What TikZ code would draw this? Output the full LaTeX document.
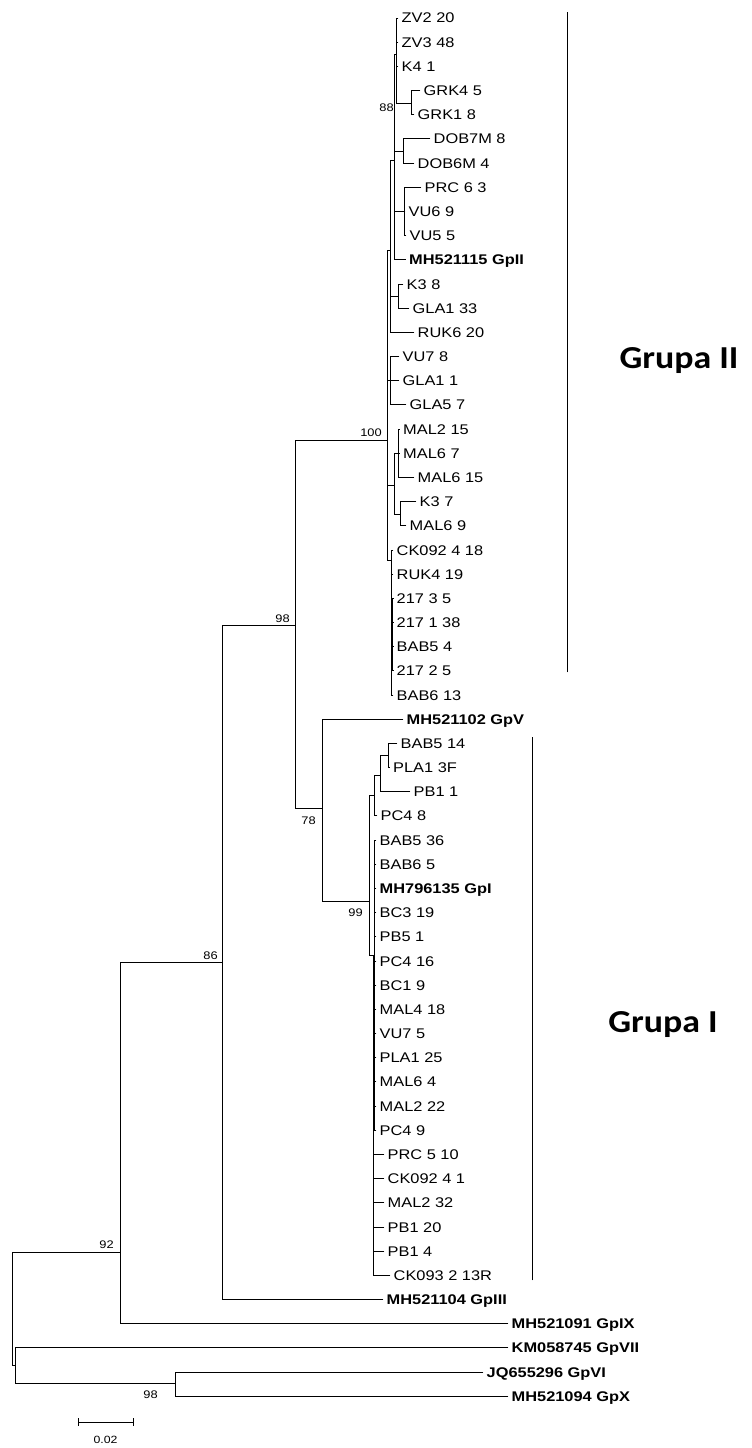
\documentclass[tikz,border=0pt]{standalone}
\usepackage{fontspec}
\setmainfont{Liberation Sans}[FakeStretch=1.17]
\newfontfamily\grpfont{Carlito}[FakeStretch=1.12]
\begin{document}
\begin{tikzpicture}[x=1pt,y=-1pt,
  br/.style={line width=0.9pt, line cap=rect},
  leaf/.style={anchor=west, inner xsep=3.5pt, inner ysep=0pt, text height=10pt, text depth=0pt, font=\fontsize{14}{16}\selectfont},
  bleaf/.style={leaf, font=\fontsize{14}{16}\selectfont\bfseries},
  boot/.style={anchor=east, inner sep=0pt, font=\fontsize{11}{12}\selectfont},
  grp/.style={inner sep=0pt, font=\grpfont\bfseries\fontsize{32}{36}\selectfont}]
\fill[white] (0,0) rectangle (752,1448);
\useasboundingbox (0,0) rectangle (752,1448);

% ---------- internal nodes ----------
\coordinate (root) at (12,1300);
\coordinate (nB) at (15,1365);
\coordinate (nC) at (175,1383);
\coordinate (n92) at (120,1252);
\coordinate (n86) at (222,962);
\coordinate (n98) at (295,625);
\coordinate (n100) at (387,440);
\coordinate (C1) at (390,250);
\coordinate (D1) at (394,160);
\coordinate (G) at (396,54);
\coordinate (GRK) at (411,103);
\coordinate (DOB) at (403,151);
\coordinate (VUn) at (404,211);
\coordinate (E) at (398,296);
\coordinate (C2) at (390,380);
\coordinate (C3) at (394,485);
\coordinate (M1) at (398,453);
\coordinate (M2) at (400,514);
\coordinate (C4) at (391,560);
\coordinate (C4b) at (392.5,634);
\coordinate (n78) at (322,808);
\coordinate (n99) at (369,901);
\coordinate (H3) at (374,795);
\coordinate (H2) at (380,775);
\coordinate (H1) at (388,755);
\coordinate (Q) at (373,955);
\coordinate (Qa) at (374.5,985);

% ---------- leaves ----------
\node[leaf] (l1) at (398,18.0) {ZV2 20};
\node[leaf] (l2) at (398,42.2) {ZV3 48};
\node[leaf] (l3) at (398,66.4) {K4 1};
\node[leaf] (l4) at (420,90.5) {GRK4 5};
\node[leaf] (l5) at (414,114.7) {GRK1 8};
\node[leaf] (l6) at (430,138.9) {DOB7M 8};
\node[leaf] (l7) at (414,163.1) {DOB6M 4};
\node[leaf] (l8) at (421,187.3) {PRC 6 3};
\node[leaf] (l9) at (405,211.4) {VU6 9};
\node[leaf] (l10) at (406,235.6) {VU5 5};
\node[bleaf] (l11) at (405.5,259.8) {MH521115 GpII};
\node[leaf] (l12) at (403,284.0) {K3 8};
\node[leaf] (l13) at (409,308.2) {GLA1 33};
\node[leaf] (l14) at (414,332.3) {RUK6 20};
\node[leaf] (l15) at (399,356.5) {VU7 8};
\node[leaf] (l16) at (399,380.7) {GLA1 1};
\node[leaf] (l17) at (406,404.9) {GLA5 7};
\node[leaf] (l18) at (399.5,429.1) {MAL2 15};
\node[leaf] (l19) at (399.5,453.2) {MAL6 7};
\node[leaf] (l20) at (414,477.4) {MAL6 15};
\node[leaf] (l21) at (416,501.6) {K3 7};
\node[leaf] (l22) at (406,525.8) {MAL6 9};
\node[leaf] (l23) at (393,550.0) {CK092 4 18};
\node[leaf] (l24) at (393,574.1) {RUK4 19};
\node[leaf] (l25) at (393,598.3) {217 3 5};
\node[leaf] (l26) at (393,622.5) {217 1 38};
\node[leaf] (l27) at (393,646.7) {BAB5 4};
\node[leaf] (l28) at (393,670.9) {217 2 5};
\node[leaf] (l29) at (393,695.0) {BAB6 13};
\node[bleaf] (l30) at (403,719.2) {MH521102 GpV};
\node[leaf] (l31) at (397,743.4) {BAB5 14};
\node[leaf] (l32) at (389.5,767.6) {PLA1 3F};
\node[leaf] (l33) at (410,791.8) {PB1 1};
\node[leaf] (l34) at (377,815.9) {PC4 8};
\node[leaf] (l35) at (376,840.1) {BAB5 36};
\node[leaf] (l36) at (376,864.3) {BAB6 5};
\node[bleaf] (l37) at (376,888.5) {MH796135 GpI};
\node[leaf] (l38) at (376,912.7) {BC3 19};
\node[leaf] (l39) at (376,936.8) {PB5 1};
\node[leaf] (l40) at (376,961.0) {PC4 16};
\node[leaf] (l41) at (376,985.2) {BC1 9};
\node[leaf] (l42) at (376,1009.4) {MAL4 18};
\node[leaf] (l43) at (376,1033.6) {VU7 5};
\node[leaf] (l44) at (376,1057.7) {PLA1 25};
\node[leaf] (l45) at (376,1081.9) {MAL6 4};
\node[leaf] (l46) at (376,1106.1) {MAL2 22};
\node[leaf] (l47) at (376,1130.3) {PC4 9};
\node[leaf] (l48) at (384,1154.5) {PRC 5 10};
\node[leaf] (l49) at (384,1178.6) {CK092 4 1};
\node[leaf] (l50) at (384,1202.8) {MAL2 32};
\node[leaf] (l51) at (384,1227.0) {PB1 20};
\node[leaf] (l52) at (384,1251.2) {PB1 4};
\node[leaf] (l53) at (390,1275.4) {CK093 2 13R};
\node[bleaf] (l54) at (383,1299.5) {MH521104 GpIII};
\node[bleaf] (l55) at (508,1323.7) {MH521091 GpIX};
\node[bleaf] (l56) at (508,1347.9) {KM058745 GpVII};
\node[bleaf] (l57) at (483,1372.1) {JQ655296 GpVI};
\node[bleaf] (l58) at (508,1396.3) {MH521094 GpX};

% ---------- branches ----------
\foreach \a/\b in {root/n92, root/nB, nB/l56, nB/nC, nC/l57, nC/l58,
  n92/n86, n92/l55, n86/n98, n86/l54, n98/n100, n98/n78,
  n100/C1, n100/C2, n100/C3, n100/C4,
  C1/D1, C1/E, C1/l14, D1/G, D1/DOB, D1/VUn, D1/l11,
  G/l1, G/l2, G/l3, G/GRK, GRK/l4, GRK/l5, DOB/l6, DOB/l7,
  VUn/l8, VUn/l9, VUn/l10, E/l12, E/l13, C2/l15, C2/l16, C2/l17,
  C3/M1, C3/M2, M1/l18, M1/l19, M1/l20, M2/l21, M2/l22,
  C4/l23, C4/l24, C4/C4b, C4/l29, C4b/l25, C4b/l26, C4b/l27, C4b/l28,
  n78/l30, n78/n99, n99/H3, n99/Q, H3/H2, H3/l34, H2/H1, H2/l33, H1/l31, H1/l32,
  Q/Qa, Q/l48, Q/l49, Q/l50, Q/l51, Q/l52, Q/l53,
  Qa/l35, Qa/l36, Qa/l37, Qa/l38, Qa/l39, Qa/l40, Qa/l41, Qa/l42, Qa/l43, Qa/l44, Qa/l45, Qa/l46, Qa/l47}
  \draw[br] (\a) |- (\b);

% ---------- bootstrap values ----------
\node[boot] (b92) at (114,1245) {92};
\node[boot] (b86) at (218,956) {86};
\node[boot] (b98a) at (290,619) {98};
\node[boot] (b100) at (382,433) {100};
\node[boot] (b88) at (394,108) {88};
\node[boot] (b78) at (316,821) {78};
\node[boot] (b99) at (363,913) {99};
\node[boot] (b98b) at (158,1395) {98};

% ---------- group bars ----------
\coordinate (g2t) at (567,12);
\coordinate (g2b) at (567,672);
\coordinate (g1t) at (532,737);
\coordinate (g1b) at (532,1280);
\draw[br] (g2t) -- (g2b);
\draw[br] (g1t) -- (g1b);
\node[grp] (gII) at (679,361) {Grupa II};
\node[grp] (gI) at (663,1025) {Grupa I};

% ---------- scale bar ----------
\coordinate (s1) at (78,1422);
\coordinate (s2) at (133,1422);
\draw[line width=0.8pt] (s1) -- (s2);
\draw[line width=0.8pt] ([yshift=4pt]s1) -- ([yshift=-4pt]s1);
\draw[line width=0.8pt] ([yshift=4pt]s2) -- ([yshift=-4pt]s2);
\node[inner sep=0pt, font=\fontsize{10.5}{12}\selectfont] (s3) at (105.5,1440) {0.02};
\end{tikzpicture}
\end{document}
